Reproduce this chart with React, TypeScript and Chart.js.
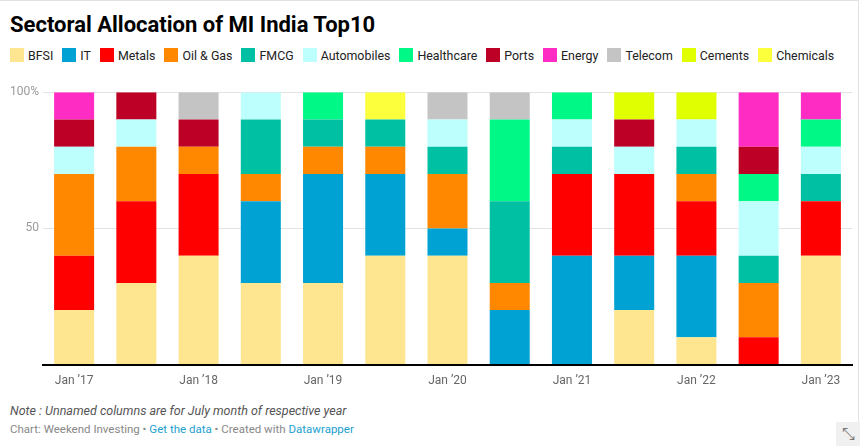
import { useEffect, useRef } from "react"
import { Chart, registerables, type ChartConfiguration } from "chart.js"

Chart.register(...registerables)

// columns: Jan and Jul of each year (Jul columns are unlabelled)
const categories = [
  "Jan ’17", "Jul ’17", "Jan ’18", "Jul ’18", "Jan ’19", "Jul ’19", "Jan ’20",
  "Jul ’20", "Jan ’21", "Jul ’21", "Jan ’22", "Jul ’22", "Jan ’23",
]

const sectors = [
  "BFSI", "IT", "Metals", "Oil & Gas", "FMCG", "Automobiles",
  "Healthcare", "Ports", "Energy", "Telecom", "Cements", "Chemicals",
]

const sectorColors = [
  "#fee690", "#00a2d3", "#ff0000", "#ff8800", "#00c0a3", "#bcfffd",
  "#00f986", "#bd0026", "#ff2cc4", "#c4c4c4", "#e0ff00", "#fcff3c",
]

const bfsi = [20, 30, 40, 30, 30, 40, 40, 0, 0, 20, 10, 0, 40]
const it = [0, 0, 0, 30, 40, 30, 10, 20, 40, 20, 30, 0, 0]
const metals = [20, 30, 30, 0, 0, 0, 0, 0, 30, 30, 20, 10, 20]
const oilGas = [30, 20, 10, 10, 10, 10, 20, 10, 0, 0, 10, 20, 0]
const fmcg = [0, 0, 0, 20, 10, 10, 10, 30, 10, 0, 10, 10, 10]
const automobiles = [10, 10, 0, 10, 0, 0, 10, 0, 10, 10, 10, 20, 10]
const healthcare = [0, 0, 0, 0, 10, 0, 0, 30, 10, 0, 0, 10, 10]
const ports = [10, 10, 10, 0, 0, 0, 0, 0, 0, 10, 0, 10, 0]
const energy = [10, 0, 0, 0, 0, 0, 0, 0, 0, 0, 0, 20, 10]
const telecom = [0, 0, 10, 0, 0, 0, 10, 10, 0, 0, 0, 0, 0]
const cements = [0, 0, 0, 0, 0, 0, 0, 0, 0, 10, 10, 0, 0]
const chemicals = [0, 0, 0, 0, 0, 10, 0, 0, 0, 0, 0, 0, 0]

const seriesValues = [
  bfsi, it, metals, oilGas, fmcg, automobiles,
  healthcare, ports, energy, telecom, cements, chemicals,
]

const yTicks = [50, 100]
const yTickLabels = ["50", "100%"]

const FONT = "Roboto, 'Noto Sans', sans-serif"

function SectorChart() {
  const chartRef = useRef<HTMLCanvasElement>(null)
  const chartInstance = useRef<Chart | null>(null)

  useEffect(() => {
    if (!chartRef.current) return
    const ctx = chartRef.current.getContext("2d")
    if (!ctx) return

    if (chartInstance.current) {
      chartInstance.current.destroy()
    }

    const config: ChartConfiguration = {
      type: "bar",
      data: {
        labels: categories,
        datasets: sectors.map((name, i) => ({
          label: name,
          data: seriesValues[i],
          backgroundColor: sectorColors[i],
          borderWidth: 0,
          barPercentage: 0.643,
          categoryPercentage: 1,
        })),
      },
      options: {
        responsive: true,
        maintainAspectRatio: false,
        animation: false,
        layout: { padding: { top: 8, right: 8, left: 0, bottom: 0 } },
        scales: {
          x: {
            stacked: true,
            grid: { display: false, drawTicks: false },
            border: { display: true, color: "#000", width: 2 },
            ticks: {
              color: "#666",
              font: { family: FONT, size: 12 },
              padding: 9,
              autoSkip: false,
              maxRotation: 0,
              callback: (_v, i) => (categories[i].startsWith("Jan") ? categories[i] : ""),
            },
          },
          y: {
            stacked: true,
            min: 0,
            max: 100,
            afterFit: (scale) => {
              scale.width = 43
            },
            afterBuildTicks: (scale) => {
              scale.ticks = [0, ...yTicks].map((v) => ({ value: v }))
            },
            grid: {
              drawTicks: false,
              color: (c) => (c.tick && c.tick.value === 0 ? "rgba(0,0,0,0)" : "#e3e3e3"),
              lineWidth: 1,
            },
            border: { display: false },
            ticks: {
              color: "#9a9a9a",
              font: { family: FONT, size: 12 },
              padding: 4,
              callback: (v) => {
                const idx = yTicks.indexOf(Number(v))
                return idx >= 0 ? yTickLabels[idx] : ""
              },
            },
          },
        },
        plugins: {
          legend: { display: false },
          tooltip: { enabled: false },
        },
      },
    }

    chartInstance.current = new Chart(ctx, config)

    return () => {
      if (chartInstance.current) {
        chartInstance.current.destroy()
        chartInstance.current = null
      }
    }
  }, [])

  return (
    <div style={{ position: "absolute", left: 0, top: 81, width: 860, height: 316 }}>
      <canvas ref={chartRef} />
    </div>
  )
}

export default function App() {
  useEffect(() => {
    document.body.style.margin = "0"
  }, [])

  return (
    <div
      style={{
        position: "relative",
        width: 863,
        height: 446,
        overflow: "hidden",
        background: "#fff",
        fontFamily: FONT,
      }}
    >
      <div style={{ position: "absolute", left: 0, top: 0, width: 859, height: 1, background: "#e2e2e2" }} />
      <div style={{ position: "absolute", left: 858, top: 0, width: 1, height: 422, background: "#e2e2e2" }} />

      <div
        style={{
          position: "absolute",
          left: 10,
          top: 13,
          fontSize: 22,
          lineHeight: "24px",
          fontWeight: 700,
          color: "#000",
          whiteSpace: "nowrap",
        }}
      >
        Sectoral Allocation of MI India Top10
      </div>

      <div
        style={{
          position: "absolute",
          left: 10,
          top: 47,
          height: 16,
          display: "flex",
          alignItems: "center",
          fontSize: 12.4,
          color: "#222",
          whiteSpace: "nowrap",
        }}
      >
        {sectors.map((name, i) => (
          <div key={name} style={{ display: "flex", alignItems: "center", marginRight: 9 }}>
            <span style={{ width: 14, height: 14, background: sectorColors[i], marginRight: 4 }} />
            <span>{name}</span>
          </div>
        ))}
      </div>

      <SectorChart />

      <div
        style={{
          position: "absolute",
          left: 10,
          top: 403,
          fontSize: 12.5,
          lineHeight: "16px",
          fontStyle: "italic",
          color: "#555",
          whiteSpace: "nowrap",
        }}
      >
        Note : Unnamed columns are for July month of respective year
      </div>

      <div
        style={{
          position: "absolute",
          left: 10,
          top: 422,
          fontSize: 11.5,
          lineHeight: "14px",
          color: "#888",
          whiteSpace: "nowrap",
        }}
      >
        Chart: Weekend Investing • <span style={{ color: "#1d9fd0" }}>Get the data</span> • Created with{" "}
        <span style={{ color: "#1d9fd0" }}>Datawrapper</span>
      </div>

      <div
        style={{
          position: "absolute",
          left: 836,
          top: 422,
          width: 24,
          height: 24,
          background: "#f0f0f0",
          color: "#777",
          fontSize: 16,
          lineHeight: "24px",
          textAlign: "center",
        }}
      >
        ⤡
      </div>
    </div>
  )
}
